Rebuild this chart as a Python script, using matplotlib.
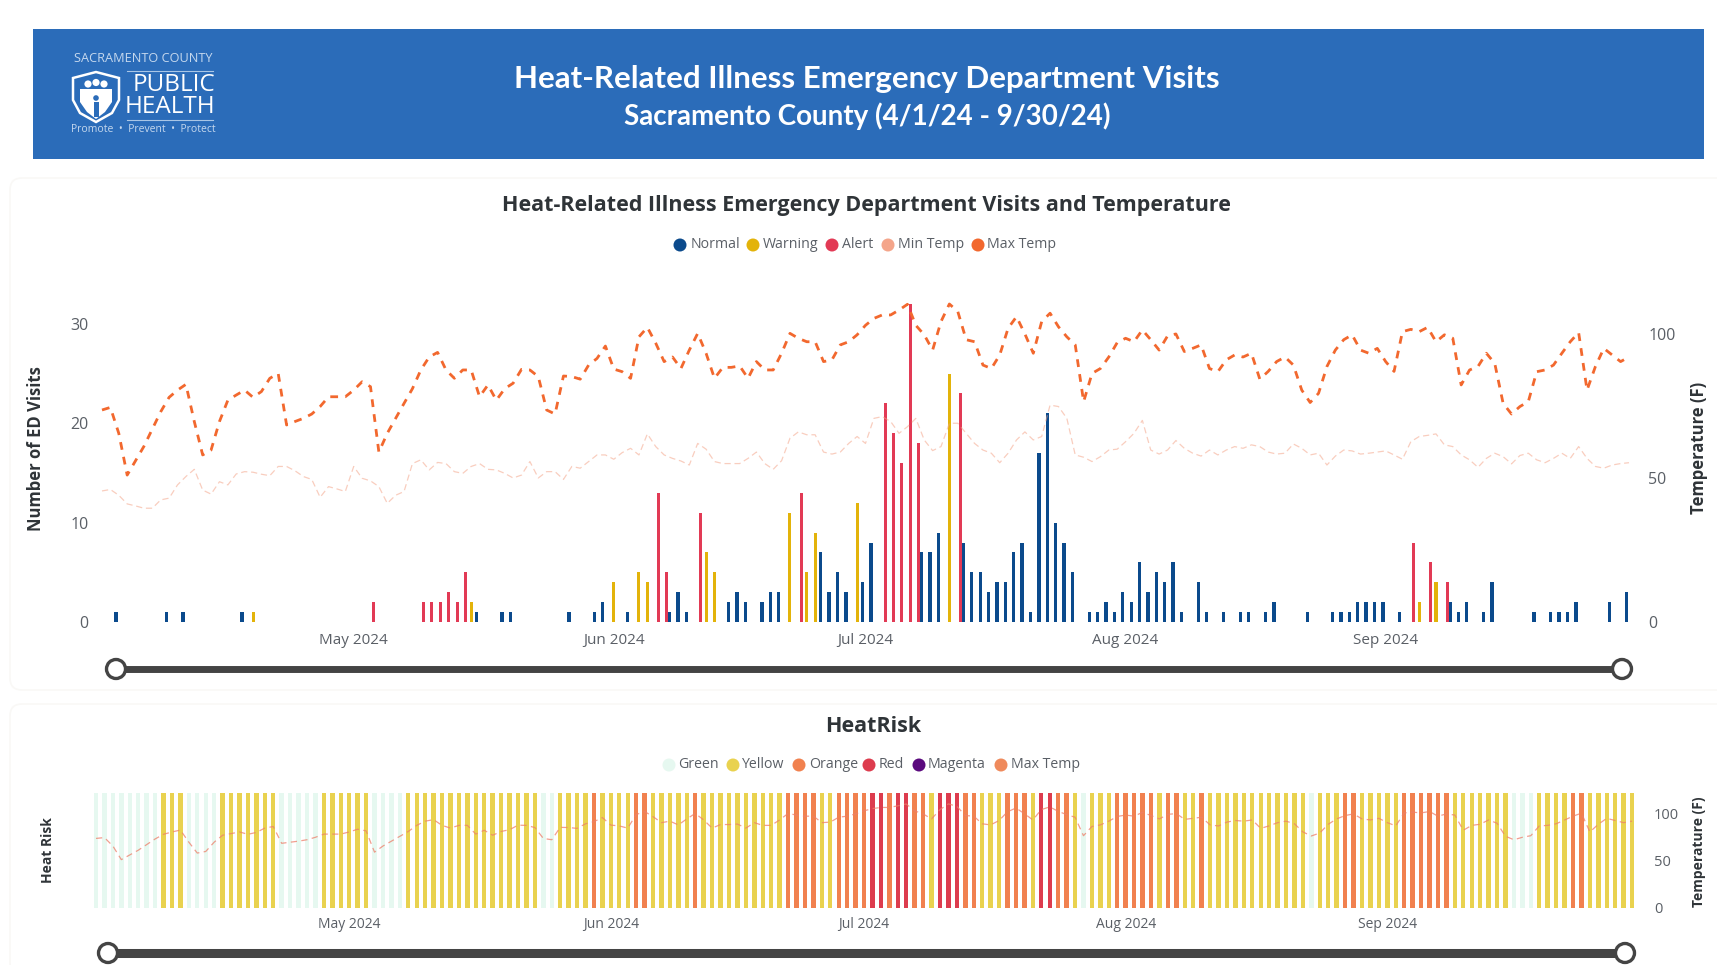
import matplotlib
matplotlib.use("Agg")
import matplotlib.pyplot as plt
import matplotlib.dates as mdates
import numpy as np
import pandas as pd
from matplotlib.patches import Circle, FancyBboxPatch, Polygon, Rectangle

plt.rcParams['font.family'] = ['Open Sans', 'DejaVu Sans']

# ---- data. days are counted from 4/1/24
dates = mdates.date2num(pd.date_range("2024-04-01", "2024-09-30"))

normal_days = [2, 8, 10, 17, 45, 48, 49, 56, 59, 60, 63, 68, 69, 70, 75, 76, 77, 79, 80, 81,
               86, 87, 88, 89, 91, 92, 98, 99, 100, 103, 104, 105, 106, 107, 108, 109, 110,
               111, 112, 113, 114, 115, 116, 118, 119, 120, 121, 122, 123, 124, 125, 126,
               127, 128, 129, 131, 132, 134, 136, 137, 139, 140, 144, 147, 148, 149, 150,
               151, 152, 153, 155, 161, 162, 163, 165, 166, 171, 173, 174, 175, 176, 180, 182]
normal_visits = [1, 1, 1, 1, 1, 1, 1, 1, 1, 2, 1, 1, 3, 1, 2, 3, 2, 2, 3, 3,
                 7, 3, 5, 3, 4, 8, 7, 7, 9, 8, 5, 5, 3, 4, 4, 7, 8,
                 1, 17, 21, 10, 8, 5, 1, 1, 2, 1, 3, 2, 6, 3, 5,
                 4, 6, 1, 4, 1, 1, 1, 1, 1, 2, 1, 1, 1, 1, 2,
                 2, 2, 2, 1, 2, 1, 2, 1, 4, 1, 1, 1, 1, 2, 2, 3]
warning_days = [18, 44, 61, 64, 65, 72, 73, 82, 84, 85, 90, 101, 157, 159]
warning_visits = [1, 2, 4, 5, 4, 7, 5, 11, 5, 9, 12, 25, 2, 4]
alert_days = [32, 38, 39, 40, 41, 42, 43, 66, 67, 71, 83, 93, 94, 95, 96, 97, 102, 156, 158, 160]
alert_visits = [2, 2, 2, 2, 3, 2, 5, 13, 5, 11, 13, 22, 19, 16, 32, 18, 23, 8, 6, 4]

max_temp = [73.6, 74.5, 65.5, 51, 56, 61, 67, 73, 78, 80.5, 82.5, 69.6, 58, 59.7, 69.6, 77,
            78.8, 80.5, 78, 80, 84.6, 86.3, 68.4, 69.6, 70.7, 72.2, 74.8, 78.2, 78.2, 78.2,
            80.5, 83.4, 81.7, 59, 65.5, 70.7, 75.9, 81, 87.5, 92, 93.6, 87.5, 84.6, 87.5, 87.5,
            78.2, 82.3, 77, 81, 82.9, 87.7, 87.5, 85.2, 73.6, 72.2, 85.4, 85.2, 84.3, 89.2, 91.5,
            95.8, 87.8, 86.9, 84.6, 99, 102.3, 96.8, 90.4, 92, 88, 94.4, 100.2, 93.3, 84.6, 88.4,
            88.4, 88.9, 84.6, 90.4, 87.5, 87.5, 93.3, 100.2, 98.5, 97.3, 97.3, 90.4, 91, 96.2, 97.3,
            99.7, 103, 105.4, 106.6, 106.6, 108.3, 110.3, 103, 99.7, 94.4, 104.3, 110.4, 107.8, 98, 97.3,
            89.2, 88, 92.7, 102, 106, 100, 93.3, 104.3, 107.2, 102.5, 99, 96.2, 76.5, 86.3, 88,
            92, 97, 98.5, 97.3, 101.4, 98, 94.4, 99.3, 100, 93.9, 95, 96.2, 88, 86.9, 91,
            92.7, 92, 93.3, 84.3, 87, 90.4, 92, 89.2, 80.5, 76.2, 79.4, 88.7, 94.4, 98, 99.7,
            94.4, 93.3, 95, 90.4, 87, 100.8, 101.6, 100.8, 102.3, 97.3, 99.7, 98.5, 82.3, 87.5, 88.7,
            93.3, 89.8, 75.9, 72.2, 74.8, 76.5, 86.9, 87.5, 89.2, 93.3, 97.3, 100.5, 80.5, 88.7, 95,
            92.7, 90.4, 92]
min_temp = [45.5, 46, 44, 41, 40.3, 39.5, 39.5, 42.4, 43, 47.6, 50.5, 53, 45.8, 44.4, 48.7, 47.6,
            51.4, 52.2, 52, 51.3, 50.8, 54, 54, 52.5, 50.5, 49.5, 43.3, 47, 46.2, 45.3,
            54, 49.9, 49, 47, 41.2, 44, 45.3, 55, 56.3, 52.8, 55.4, 55, 52.2, 51.6, 54,
            55, 53, 52.8, 51.6, 50, 51, 55.7, 50, 52.2, 52.2, 49.5, 54, 53.4, 55.7, 58,
            58, 56.5, 58.8, 60.3, 58, 65.3, 60.9, 58, 56.8, 55.9, 54.5, 62, 60, 55.7, 55,
            55, 55, 56.8, 59, 55, 53, 56, 63.8, 66, 65, 65, 59, 58.3, 59, 62,
            64.4, 62, 70.7, 71.3, 69.6, 65.5, 67.8, 70.7, 63.2, 59.5, 60.9, 69, 69, 65.5, 62,
            59.7, 58.6, 55.3, 58.6, 63.2, 66, 63.2, 64.4, 75.3, 74.8, 70.7, 58, 57.2, 55.7, 57.4,
            59.7, 60, 62.6, 65.5, 70, 59.7, 58.3, 59.7, 63, 60.3, 58.6, 57.6, 59.7, 58, 59.7,
            60.9, 60.3, 61.5, 60.9, 59, 58.3, 58.6, 61.8, 60.3, 58, 58.6, 54.5, 57.6, 59.7, 59.4,
            58.3, 58.6, 59, 59.4, 58, 56.5, 62.6, 64.4, 64.8, 65.3, 61.5, 60.9, 58, 56.3, 53.7,
            56.8, 58.6, 57.4, 54.9, 57.8, 58.6, 56.3, 55.3, 56.8, 58.6, 56.8, 60.9, 56.8, 54, 53.4,
            54.5, 55, 55.3]

# heat risk level of each day, as runs of (level, number of days)
risk_runs = [("G", 8), ("Y", 3), ("G", 4), ("Y", 7), ("G", 5), ("Y", 6), ("G", 4), ("Y", 16), ("G", 2),
             ("Y", 4), ("O", 1), ("Y", 4), ("O", 2), ("Y", 5), ("O", 1), ("Y", 10), ("O", 4), ("Y", 2),
             ("O", 4), ("R", 2), ("O", 1), ("R", 2), ("O", 2), ("Y", 1), ("R", 3), ("O", 2), ("Y", 3),
             ("O", 3), ("Y", 1), ("R", 2), ("O", 2), ("Y", 1), ("G", 1), ("Y", 3), ("O", 5), ("Y", 1),
             ("O", 2), ("Y", 2), ("O", 1), ("Y", 12), ("G", 1), ("Y", 3), ("O", 2), ("Y", 5), ("O", 6),
             ("Y", 7), ("G", 3), ("Y", 4), ("O", 2), ("Y", 6)]

NAVY, GOLD, CRIMSON = "#0b4a8c", "#e3b30a", "#e23a55"
MIN_C, MAX_C = "#f4a58a", "#f2682e"
risk_colors = {"G": "#e6f8f0", "Y": "#e9d24f", "O": "#f1814f", "R": "#dd3c4e"}
BLUE = "#2b6cb9"
TEXT = "#5a5f66"
DARK = "#2f3438"
W, H = 1717, 965


def px_axes(fig, left, top, right, bottom):
    ax = fig.add_axes([left / W, 1 - bottom / H, (right - left) / W, (bottom - top) / H])
    ax.patch.set_alpha(0)
    for s in ax.spines.values():
        s.set_visible(False)
    ax.tick_params(length=0)
    return ax


def slider(bg, x0, x1, y, lw, r):
    bg.plot([x0, x1], [y, y], color="#444444", lw=lw, solid_capstyle="butt", zorder=2)
    for x in (x0, x1):
        bg.add_patch(Circle((x, y), r, fc="white", ec="#444444", lw=2.4, zorder=3))


def legend(bg, y, items):
    for dot_x, text_x, label, color in items:
        bg.add_patch(Circle((dot_x, y), 6.5, fc=color, ec="none"))
        bg.text(text_x, y, label, ha="left", va="center", fontsize=10.2, color=TEXT)


fig = plt.figure(figsize=(W / 100, H / 100), dpi=100, facecolor="white")
bg = fig.add_axes([0, 0, 1, 1])
bg.set_xlim(0, W)
bg.set_ylim(H, 0)
bg.axis("off")

# cards behind the charts, barely visible
for top, bottom in ((178, 690), (704, 975)):
    bg.add_patch(FancyBboxPatch((10, top), 1720, bottom - top, boxstyle="round,pad=0,rounding_size=12",
                                fc="white", ec="#f9f8f6", lw=1.2))

# banner
bg.add_patch(Rectangle((32.5, 28.5), 1671.5, 130.5, fc=BLUE, ec="none"))
bg.text(867, 79, "Heat-Related Illness Emergency Department Visits", ha="center", va="center",
        fontsize=22.5, fontweight="bold", family="Lato", color="white")
bg.text(867, 116, "Sacramento County (4/1/24 - 9/30/24)", ha="center", va="center",
        fontsize=20, fontweight="bold", family="Lato", color="white")

# logo
bg.text(143, 59, "SACRAMENTO COUNTY", ha="center", va="center", fontsize=9.2, color="#c5d8ee")
bg.text(215, 85, "PUBLIC", ha="right", va="center", fontsize=17.5, color="white")
bg.text(215, 107, "HEALTH", ha="right", va="center", fontsize=17.5, color="white")
bg.plot([127, 213], [70.5, 70.5], color="#a9c6e6", lw=0.8)
bg.plot([127, 213], [120, 120], color="#a9c6e6", lw=0.8)
bg.text(143, 130, "Promote  \u2022  Prevent  \u2022  Protect", ha="center", va="center", fontsize=7.5, color="#c5d8ee")
shield_x = [73, 96, 119, 119, 112, 96, 80, 73]
shield_y = [78, 72, 78, 100, 113, 122, 113, 100]
bg.add_patch(Polygon(list(zip(shield_x, shield_y)), closed=True, fc="none", ec="white", lw=1.8))
inner_x = [80, 112, 112, 105, 96, 87, 80]
inner_y = [89, 89, 102, 112, 119, 112, 102]
bg.add_patch(Polygon(list(zip(inner_x, inner_y)), closed=True, fc="white", ec="none"))
for cx, cy in ((88, 84), (96, 82.5), (104, 84)):
    bg.add_patch(Circle((cx, cy), 3.6, fc="white", ec="none"))
bg.add_patch(Circle((96, 98), 2.8, fc=BLUE, ec="none"))
bg.add_patch(Rectangle((93.5, 102), 5, 15, fc=BLUE, ec="none"))

# top chart
bg.text(866, 206, "Heat-Related Illness Emergency Department Visits and Temperature", ha="center",
        va="center", fontsize=15.5, fontweight="bold", color=DARK)
legend(bg, 245, [(680, 691, "Normal", NAVY), (753, 763, "Warning", GOLD), (832, 842, "Alert", CRIMSON),
                 (888, 898, "Min Temp", MIN_C), (978, 987, "Max Temp", MAX_C)])
bg.text(36, 449, "Number of ED Visits", rotation=90, ha="center", va="center", fontsize=12,
        fontweight="bold", color=DARK)
bg.text(1699, 448, "Temperature (F)", rotation=90, ha="center", va="center", fontsize=12,
        fontweight="bold", color=DARK)

PX_DAY = 8.39
LEFT, RIGHT, TOP, BOTTOM = 95, 1640, 304, 622
ax = px_axes(fig, LEFT, TOP, RIGHT, BOTTOM)
ax.set_xlim(dates[0] + (LEFT - 102) / PX_DAY, dates[0] + (RIGHT - 102) / PX_DAY)
ax.set_ylim(0, 32)
for days, vals, off, wid, col in ((normal_days, normal_visits, -0.33, 0.4, NAVY),
                                  (warning_days, warning_visits, 0, 0.36, GOLD),
                                  (alert_days, alert_visits, 0.33, 0.36, CRIMSON)):
    ax.bar(dates[days] + off, vals, width=wid, color=col, zorder=2)
ax.set_yticks([0, 10, 20, 30])
ax.tick_params(axis="y", labelsize=11.5, labelcolor=TEXT, pad=4.5)
ax.xaxis.set_major_locator(mdates.MonthLocator(bymonth=[5, 6, 7, 8, 9]))
ax.xaxis.set_major_formatter(mdates.DateFormatter("%b %Y"))
ax.tick_params(axis="x", labelsize=11, labelcolor=TEXT, pad=8)

ax2 = ax.twinx()
ax2.patch.set_alpha(0)
for s in ax2.spines.values():
    s.set_visible(False)
ax2.set_ylim(0, 110.4)
ax2.set_yticks([0, 50, 100])
ax2.tick_params(axis="y", length=0, labelsize=11.5, labelcolor=TEXT, pad=6)
ax2.plot(dates, min_temp, color=MIN_C, lw=0.9, alpha=0.55, dashes=(5, 3), clip_on=False)
ax2.plot(dates, max_temp, color=MAX_C, lw=2.0, dashes=(2.8, 2.6), clip_on=False)
slider(bg, 116, 1622, 669, 5, 9.5)

# heat risk chart
bg.text(873, 726, "HeatRisk", ha="center", va="center", fontsize=15.5, fontweight="bold", color=DARK)
legend(bg, 765, [(669, 678, "Green", risk_colors["G"]), (733, 742, "Yellow", risk_colors["Y"]),
                 (799, 809, "Orange", risk_colors["O"]), (869, 879, "Red", risk_colors["R"]),
                 (919, 928, "Magenta", "#5b0a7e"), (1001, 1011, "Max Temp", "#ef8a5c")])
bg.text(48, 850, "Heat Risk", rotation=90, ha="center", va="center", fontsize=10, fontweight="bold",
        color=DARK)
bg.text(1699, 852, "Temperature (F)", rotation=90, ha="center", va="center", fontsize=10,
        fontweight="bold", color=DARK)

PX_DAY2 = 8.44
LEFT2, RIGHT2, TOP2, BOTTOM2 = 88, 1640, 793, 907.5
rx = px_axes(fig, LEFT2, TOP2, RIGHT2, BOTTOM2)
rx.set_xlim(dates[0] + (LEFT2 - 96) / PX_DAY2, dates[0] + (RIGHT2 - 96) / PX_DAY2)
rx.set_ylim(0, 122)
risk = [level for level, n in risk_runs for _ in range(n)]
rx.bar(dates, [122] * len(dates), width=0.52, color=[risk_colors[r] for r in risk], zorder=1)
rx.plot(dates, max_temp, color="#ee7f6a", lw=0.9, alpha=0.75, dashes=(5, 3.5), zorder=3)
rx.set_yticks([0, 50, 100])
rx.yaxis.tick_right()
rx.tick_params(axis="y", labelsize=10.5, labelcolor=TEXT, pad=10)
rx.xaxis.set_major_locator(mdates.MonthLocator(bymonth=[5, 6, 7, 8, 9]))
rx.xaxis.set_major_formatter(mdates.DateFormatter("%b %Y"))
rx.tick_params(axis="x", labelsize=10, labelcolor=TEXT, pad=7)
slider(bg, 108, 1625, 953, 6.5, 9.5)

fig.savefig("out.png", dpi=100)
